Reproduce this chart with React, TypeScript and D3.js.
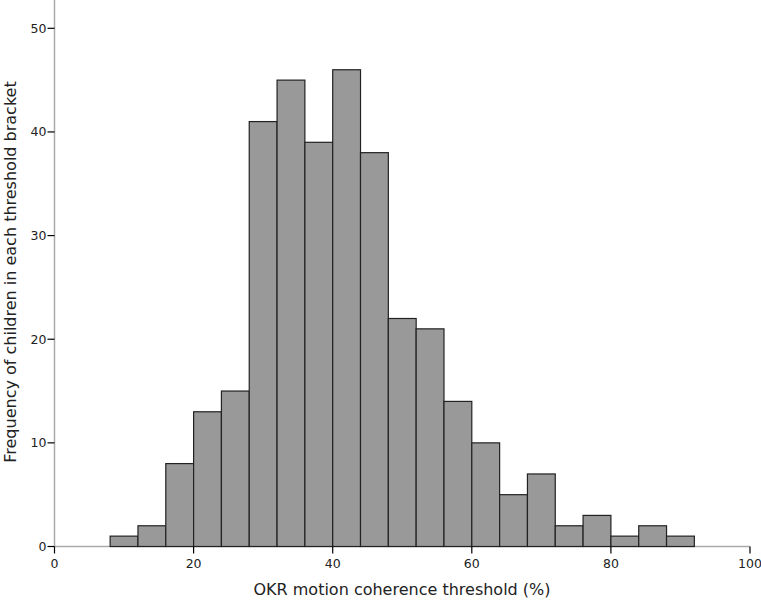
import React from "react";
import * as d3 from "d3";

const binStarts = [8, 12, 16, 20, 24, 28, 32, 36, 40, 44, 48, 52, 56, 60, 64, 68, 72, 76, 80, 84, 88];
const counts = [1, 2, 8, 13, 15, 41, 45, 39, 46, 38, 22, 21, 14, 10, 5, 7, 2, 3, 1, 2, 1];
const binWidth = 4;
const xTicks = [0, 20, 40, 60, 80, 100];
const yTicks = [0, 10, 20, 30, 40, 50];

export default function App() {
  const W = 761, H = 603;
  const x = d3.scaleLinear().domain([0, 100]).range([54.5, 750]);
  const y = d3.scaleLinear().domain([0, 50]).range([546.5, 28.3]);
  const font = "DejaVu Sans, Verdana, sans-serif";
  return (
    <svg width={W} height={H} style={{ position: "absolute", left: 0, top: 0, background: "#fff" }}>
      <line x1={x(0)} x2={x(0)} y1={0} y2={y(0)} stroke="#aaa" strokeWidth={1.5} />
      <line x1={x(0)} x2={x(100)} y1={y(0)} y2={y(0)} stroke="#aaa" strokeWidth={1.5} />
      {binStarts.map((b, i) => (
        <rect key={i} x={x(b)} y={y(counts[i])} width={x(b + binWidth) - x(b)} height={y(0) - y(counts[i])}
          fill="#999999" stroke="#222" strokeWidth={1.2} />
      ))}
      {yTicks.map(t => (
        <g key={"y" + t}>
          <line x1={x(0) - 7} x2={x(0)} y1={y(t)} y2={y(t)} stroke="#000" strokeWidth={1.2} />
          <text x={x(0) - 8} y={y(t)} dy="0.35em" textAnchor="end" fontSize={12.5} fontFamily={font} fill="#222">{t}</text>
        </g>
      ))}
      {xTicks.map(t => (
        <g key={"x" + t}>
          <line x1={x(t)} x2={x(t)} y1={y(0)} y2={y(0) + 7} stroke="#000" strokeWidth={1.2} />
          <text x={x(t)} y={y(0) + 21} textAnchor="middle" fontSize={12.5} fontFamily={font} fill="#222">{t}</text>
        </g>
      ))}
      <text x={402} y={595} textAnchor="middle" fontSize={16} fontFamily={font} fill="#222">OKR motion coherence threshold (%)</text>
      <text transform={`translate(16, 272) rotate(-90)`} textAnchor="middle" fontSize={16} fontFamily={font} fill="#222">Frequency of children in each threshold bracket</text>
    </svg>
  );
}
